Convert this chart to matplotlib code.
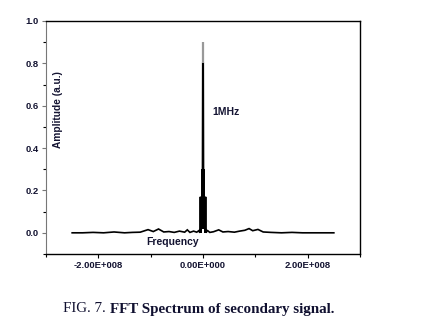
import matplotlib
matplotlib.use("Agg")
import matplotlib.pyplot as plt
from matplotlib.ticker import MultipleLocator

# Baseline of the spectrum (Hz, a.u.)
base_freq = [-2.5e8, -2.3e8, -2.1e8, -1.9e8, -1.7e8, -1.5e8, -1.35e8, -1.2e8,
             -1.05e8, -0.95e8, -0.85e8, -0.75e8, -0.65e8, -0.55e8, -0.45e8,
             -0.35e8, -0.3e8, -0.25e8, -0.18e8, -0.12e8, -0.08e8]
base_amp = [0.0, 0.0, 0.002, 0.0, 0.004, 0.0, 0.002, 0.003,
            0.015, 0.006, 0.018, 0.004, 0.006, 0.002, 0.008,
            0.003, 0.014, 0.002, 0.008, 0.003, 0.01]

base_freq_r = [0.08e8, 0.13e8, 0.2e8, 0.3e8, 0.38e8, 0.48e8, 0.6e8, 0.7e8,
               0.8e8, 0.88e8, 0.95e8, 1.05e8, 1.15e8, 1.3e8, 1.5e8, 1.7e8,
               1.9e8, 2.1e8, 2.3e8, 2.5e8]
base_amp_r = [0.012, 0.002, 0.005, 0.014, 0.004, 0.006, 0.003, 0.008,
              0.012, 0.02, 0.01, 0.016, 0.004, 0.002, 0.0, 0.002,
              0.0, 0.0, 0.0, 0.0]

# Central 1 MHz carrier region
peak_freq = [-6e6, -5e6, -4e6, -3e6, -2.5e6, -2e6, -1.5e6, -1e6, -0.5e6, 0.0,
             0.5e6, 1e6, 1.5e6, 2e6, 2.5e6, 3e6, 4e6, 5e6, 6e6]
peak_amp = [0.0, 0.17, 0.0, 0.17, 0.02, 0.30, 0.02, 0.30, 0.8, 0.8,
            0.8, 0.30, 0.02, 0.30, 0.02, 0.17, 0.0, 0.17, 0.0]
peak_max = 0.9

freq = base_freq + peak_freq + base_freq_r
amp = base_amp + peak_amp + base_amp_r

x_ticks = [-2e8, 0.0, 2e8]
x_labels = ["-2.00E+008", "0.00E+000", "2.00E+008"]
y_ticks = [0.0, 0.2, 0.4, 0.6, 0.8, 1.0]
y_labels = ["0.0", "0.2", "0.4", "0.6", "0.8", "1.0"]

W, H = 422, 333
fig = plt.figure(figsize=(W / 100, H / 100), dpi=100)
ax = fig.add_axes([46 / W, 1 - 254 / H, (360 - 46) / W, (254 - 21) / H])

ax.plot(freq, amp, color="black", lw=1.2, solid_joinstyle="miter")
# thin tip of the carrier line
ax.vlines(0.0, max(peak_amp), peak_max, color="#999999", lw=1.6)

ax.set_xlim(-3e8, 3e8)
ax.set_ylim(-0.1, 1.0)

tick_color = "#141432"
ax.set_xticks(x_ticks)
ax.set_xticklabels(x_labels)
ax.set_yticks(y_ticks)
ax.set_yticklabels(y_labels)
ax.xaxis.set_minor_locator(MultipleLocator(1e8))
ax.yaxis.set_minor_locator(MultipleLocator(0.1))
ax.tick_params(axis="both", which="major", direction="out", length=3, width=0.8,
               labelsize=6.8, labelcolor=tick_color, pad=2)
ax.tick_params(axis="both", which="minor", direction="out", length=2, width=0.8)
ax.tick_params(axis="y", colors="#777777", labelcolor=tick_color)
for lab in ax.get_xticklabels() + ax.get_yticklabels():
    lab.set_fontfamily("Liberation Sans")
    lab.set_fontweight("bold")

for side in ["top", "right", "bottom"]:
    ax.spines[side].set_color("black")
    ax.spines[side].set_linewidth(1.0)
ax.spines["left"].set_color("#777777")
ax.spines["left"].set_linewidth(0.8)

# In-plot labels
ax.text(-0.59e8, -0.045, "Frequency", fontsize=7.5, fontfamily="Liberation Sans",
        fontweight="bold", color="#141432", ha="center", va="center")
ax.text(-2.77e8, 0.58, "Amplitude (a.u.)", fontsize=7.3, fontfamily="Liberation Sans",
        fontweight="bold", color="#141432", ha="center", va="center", rotation=90)
ax.text(0.17e8, 0.57, "1MHz", fontsize=7.5, fontfamily="Liberation Sans",
        fontweight="bold", color="#141432", ha="left", va="center")

# Caption
t1 = fig.text(63 / W, 1 - 309 / H, "FIG. 7. ", fontsize=10.8,
              fontfamily="Liberation Serif", color="#101030", ha="left", va="center")
fig.canvas.draw()
ax.annotate("FFT Spectrum of secondary signal.", xy=(1, 0.5), xycoords=t1,
            va="center", ha="left", fontsize=10.8, fontfamily="Liberation Serif",
            fontweight="bold", color="#101030", annotation_clip=False)

fig.savefig("out.png", dpi=100)
